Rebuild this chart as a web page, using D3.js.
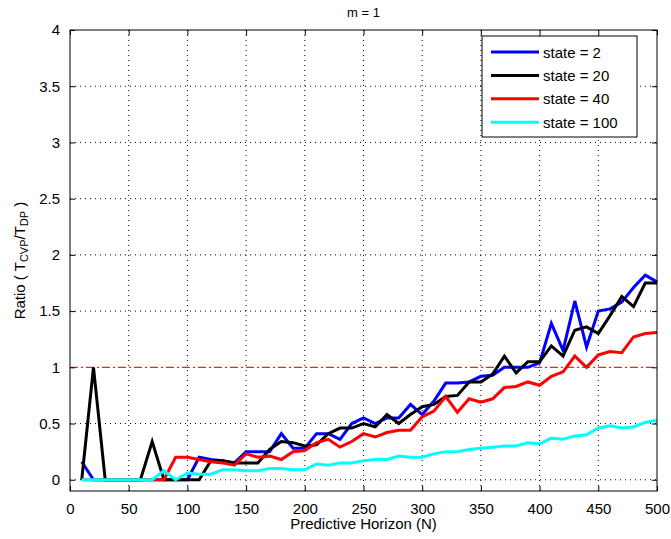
<!DOCTYPE html>
<html>
<head>
<meta charset="utf-8">
<script src="https://cdn.jsdelivr.net/npm/d3@7"></script>
<style>
  body { margin: 0; background: #fff; }
  svg text { font-family: "Liberation Sans", Arial, sans-serif; fill: #000; }
  .grid line { stroke: #000; stroke-dasharray: 1,4; stroke-width: 1; }
</style>
</head>
<body>
<svg id="chart"></svg>
<script>
// horizon values N = 10, 20, ..., 500
const horizon = [10,20,30,40,50,60,70,80,90,100,110,120,130,140,150,160,170,180,190,200,
  210,220,230,240,250,260,270,280,290,300,310,320,330,340,350,360,370,380,390,400,
  410,420,430,440,450,460,470,480,490,500];

const state2 = [0.16,0,0,0,0,0,0,0,0,0,0.20,0.18,0.17,0.15,0.25,0.25,0.25,0.41,0.28,0.28,
  0.41,0.41,0.36,0.50,0.55,0.50,0.55,0.55,0.67,0.58,0.70,0.86,0.86,0.87,0.92,0.93,1.00,1.00,1.00,1.04,
  1.39,1.15,1.59,1.18,1.50,1.52,1.58,1.71,1.82,1.76];

const state20 = [0,1.0,0,0,0,0,0.34,0,0,0,0,0.17,0.17,0.15,0.15,0.15,0.27,0.34,0.33,0.30,
  0.31,0.41,0.46,0.46,0.50,0.47,0.58,0.50,0.58,0.65,0.67,0.74,0.75,0.87,0.87,0.94,1.10,0.95,1.05,1.05,
  1.19,1.10,1.33,1.36,1.30,1.46,1.63,1.54,1.75,1.75];

const state40 = [0,0,0,0,0,0,0,0,0.20,0.20,0.18,0.16,0.15,0.13,0.23,0.20,0.21,0.18,0.25,0.26,
  0.33,0.36,0.29,0.34,0.41,0.38,0.42,0.44,0.44,0.56,0.61,0.74,0.60,0.72,0.69,0.72,0.82,0.83,0.87,0.84,
  0.92,0.96,1.10,1.00,1.11,1.14,1.13,1.27,1.30,1.31];

const state100 = [0,0,0,0,0,0,0,0.08,0,0.06,0.05,0.05,0.09,0.09,0.08,0.08,0.10,0.10,0.09,0.09,
  0.14,0.13,0.15,0.15,0.17,0.18,0.18,0.21,0.20,0.20,0.23,0.25,0.25,0.27,0.28,0.29,0.30,0.30,0.33,0.32,
  0.37,0.36,0.39,0.40,0.46,0.48,0.46,0.47,0.51,0.53];

const seriesNames = ['state = 2', 'state = 20', 'state = 40', 'state = 100'];
const seriesColors = ['#0000ff', '#000000', '#ff0000', '#00ffff'];
const seriesValues = [state2, state20, state40, state100];

const xTicks = [0,50,100,150,200,250,300,350,400,450,500];
const yTicks = [0,0.5,1,1.5,2,2.5,3,3.5,4];
const refLine = 1;

const width = 671, height = 539;
const margin = {top: 30, right: 14, bottom: 48, left: 70};
const w = width - margin.left - margin.right;
const h = height - margin.top - margin.bottom;

const svg = d3.select('#chart').attr('width', width).attr('height', height);
const chart = svg.append('g').attr('transform', `translate(${margin.left},${margin.top})`);

const x = d3.scaleLinear().domain([0, 500]).range([0, w]);
const y = d3.scaleLinear().domain([-0.1, 4]).range([h, 0]);

// dotted grid (skip the row covered by the reference line)
chart.append('g').attr('class', 'grid')
  .selectAll('line').data(xTicks.slice(1, -1)).join('line')
    .attr('x1', d => x(d)).attr('x2', d => x(d)).attr('y1', 0).attr('y2', h);
chart.append('g').attr('class', 'grid')
  .selectAll('line').data(yTicks.slice(0, -1).filter(d => d !== refLine)).join('line')
    .attr('x1', 0).attr('x2', w).attr('y1', d => y(d)).attr('y2', d => y(d));

// reference line at 1
chart.append('line')
  .attr('x1', 0).attr('x2', w).attr('y1', y(refLine)).attr('y2', y(refLine))
  .attr('stroke', '#ff2020').attr('stroke-width', 1.2)
  .attr('stroke-dasharray', '8,3,2,3');

// data lines
const line = d3.line().x((d, i) => x(horizon[i])).y(d => y(d));
seriesValues.forEach((vals, k) => {
  chart.append('path')
    .datum(vals)
    .attr('fill', 'none')
    .attr('stroke', seriesColors[k])
    .attr('stroke-width', 3)
    .attr('stroke-linejoin', 'miter')
    .attr('d', line);
});

// axes with inward ticks, box on all sides
const axisFont = g => g.selectAll('text').style('font-size', '15px').style('font-family', '"Liberation Sans", Arial, sans-serif');
chart.append('g').attr('transform', `translate(0,${h})`)
  .call(d3.axisBottom(x).tickValues(xTicks).tickSize(-5).tickPadding(12).tickSizeOuter(0))
  .call(axisFont);
chart.append('g')
  .call(d3.axisLeft(y).tickValues(yTicks).tickFormat(d3.format('')).tickSize(-5).tickPadding(10).tickSizeOuter(0))
  .call(axisFont);
chart.append('g')
  .call(d3.axisTop(x).tickValues(xTicks).tickSize(-5).tickFormat('').tickSizeOuter(0));
chart.append('g').attr('transform', `translate(${w},0)`)
  .call(d3.axisRight(y).tickValues(yTicks).tickSize(-5).tickFormat('').tickSizeOuter(0));
chart.selectAll('.domain').remove();
chart.append('rect').attr('width', w).attr('height', h)
  .attr('fill', 'none').attr('stroke', '#000').attr('stroke-width', 1);

// title and axis labels
svg.append('text').attr('x', margin.left + w / 2).attr('y', 17)
  .attr('text-anchor', 'middle').style('font-size', '13px').text('m = 1');
svg.append('text').attr('x', margin.left + w / 2).attr('y', 529)
  .attr('text-anchor', 'middle').style('font-size', '15px').text('Predictive Horizon (N)');

const ylab = svg.append('text')
  .attr('transform', `translate(25,${margin.top + h / 2}) rotate(-90)`)
  .attr('text-anchor', 'middle').style('font-size', '15px');
ylab.append('tspan').text('Ratio ( T');
ylab.append('tspan').attr('baseline-shift', '-30%').style('font-size', '11px').text('CVP');
ylab.append('tspan').text('/T');
ylab.append('tspan').attr('baseline-shift', '-30%').style('font-size', '11px').text('DP');
ylab.append('tspan').text(' )');

// legend
const legend = svg.append('g').attr('transform', 'translate(482,36)');
legend.append('rect').attr('width', 155).attr('height', 101)
  .attr('fill', '#fff').attr('stroke', '#000').attr('stroke-width', 1);
seriesNames.forEach((name, k) => {
  const row = legend.append('g').attr('transform', `translate(0,${16 + k * 23.4})`);
  row.append('line').attr('x1', 9).attr('x2', 57).attr('y1', 0).attr('y2', 0)
    .attr('stroke', seriesColors[k]).attr('stroke-width', 3);
  row.append('text').attr('x', 61).attr('y', 5.5).style('font-size', '15px').text(name);
});
</script>
</body>
</html>
